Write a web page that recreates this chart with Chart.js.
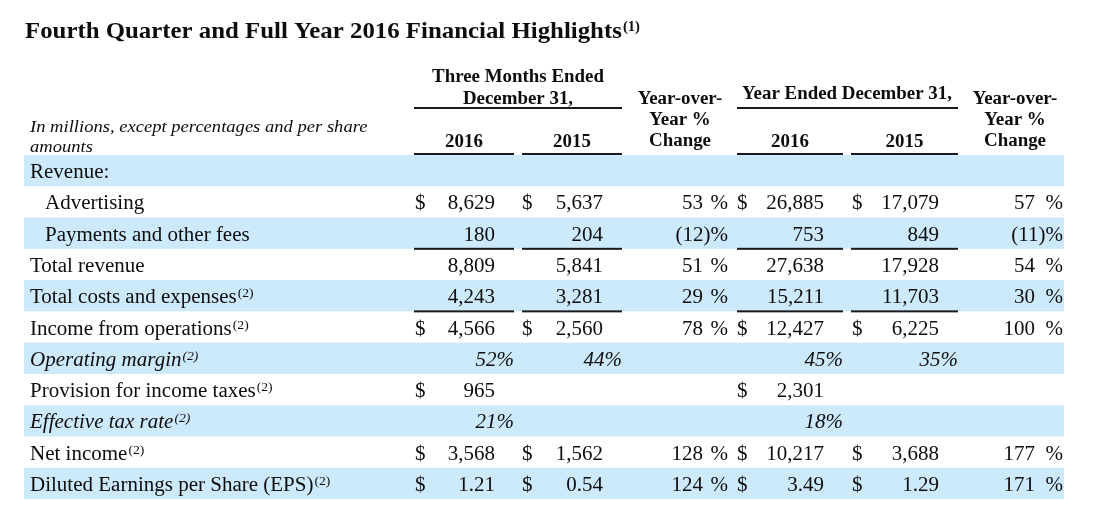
<!DOCTYPE html>
<html>
<head>
<meta charset="utf-8">
<script src="https://cdn.jsdelivr.net/npm/chart.js@4"></script>
<style>
  body { margin: 0; background: #fff; }
  canvas { display: block; }
</style>
</head>
<body>
<canvas id="table" width="1096" height="510"></canvas>
<script>
// ---------------- DATA ----------------
const title = "Fourth Quarter and Full Year 2016 Financial Highlights";
const rowLabels = [
    "Revenue:",
    "Advertising",
    "Payments and other fees",
    "Total revenue",
    "Total costs and expenses",
    "Income from operations",
    "Operating margin",
    "Provision for income taxes",
    "Effective tax rate",
    "Net income",
    "Diluted Earnings per Share (EPS)"
];
const labelNotes = ["", "", "", "", "(2)", "(2)", "(2)", "(2)", "(2)", "(2)", "(2)"];
const indentRows = [1, 2];
const italicRows = [6, 8];
const dollarRows = [1, 5, 7, 9, 10];
const epsRow = 10;

const q4_2016 = [null, 8629, 180, 8809, 4243, 4566, 52, 965, 21, 3568, 1.21];
const q4_2015 = [null, 5637, 204, 5841, 3281, 2560, 44, null, null, 1562, 0.54];
const q4Change = [null, 53, -12, 51, 29, 78, null, null, null, 128, 124];
const fy_2016 = [null, 26885, 753, 27638, 15211, 12427, 45, 2301, 18, 10217, 3.49];
const fy_2015 = [null, 17079, 849, 17928, 11703, 6225, 35, null, null, 3688, 1.29];
const fyChange = [null, 57, -11, 54, 30, 100, null, null, null, 177, 171];

const underlineAfter = [2, 4];

// ---------------- LAYOUT ----------------
const SERIF = "'Liberation Serif', 'Times New Roman', serif";
const INK = "#0d0d0d";
const BAND = "#cdeafd";

const amountCols = [
    { values: q4_2016, dollar: 415, right: 495, lineL: 414, lineR: 514 },
    { values: q4_2015, dollar: 522, right: 603, lineL: 522, lineR: 622 },
    { values: fy_2016, dollar: 737, right: 824, lineL: 737, lineR: 843 },
    { values: fy_2015, dollar: 852, right: 939, lineL: 851, lineR: 958 }
];
const changeCols = [
    { values: q4Change, numRight: 703, pctRight: 728 },
    { values: fyChange, numRight: 1035, pctRight: 1063 }
];

function txt(ctx, s, x, y, font, align, sx) {
    ctx.save();
    ctx.font = font;
    ctx.textAlign = align || "left";
    ctx.textBaseline = "alphabetic";
    ctx.fillStyle = INK;
    ctx.translate(x, y);
    ctx.scale(sx || 1.05, 1);
    ctx.fillText(s, 0, 0);
    const w = ctx.measureText(s).width * (sx || 1.05);
    ctx.restore();
    return w;
}

function hline(ctx, x1, x2, y) {
    ctx.save();
    ctx.fillStyle = "#1a1a1a";
    ctx.fillRect(x1, y - 1, x2 - x1, 2);
    ctx.restore();
}

function fmt(v, row) {
    if (row === epsRow) return v.toFixed(2);
    return v.toLocaleString("en-US");
}

// ---------------- TABLE PLUGIN ----------------
const tablePlugin = {
    id: "finTable",
    beforeDatasetsDraw(chart) {
        const ctx = chart.ctx;
        const xs = chart.scales.x;
        const ys = chart.scales.y;
        const area = chart.chartArea;
        const rowH = ys.getPixelForValue(1) - ys.getPixelForValue(0);
        const X = v => xs.getPixelForValue(v);

        // bands
        rowLabels.forEach((_, i) => {
            if (i % 2 !== 0) return;
            const c = ys.getPixelForValue(i);
            ctx.fillStyle = BAND;
            ctx.fillRect(area.left, c - rowH / 2, area.right - area.left, rowH);
        });

        // title
        const tw = txt(ctx, title, 25, 38, "bold 23px " + SERIF, "left", 1.08);
        txt(ctx, "(1)", 25 + tw + 1, 31, "bold 14px " + SERIF, "left", 1.05);

        // header
        const hb = "bold 18px " + SERIF;
        txt(ctx, "Three Months Ended", X(518), 82, hb, "center");
        txt(ctx, "December 31,", X(518), 104, hb, "center");
        txt(ctx, "Year Ended December 31,", X(847), 99, hb, "center");
        [X(680), X(1015)].forEach(cx => {
            txt(ctx, "Year-over-", cx, 104, hb, "center");
            txt(ctx, "Year %", cx, 125, hb, "center");
            txt(ctx, "Change", cx, 146, hb, "center");
        });
        const yearNames = ["2016", "2015", "2016", "2015"];
        amountCols.forEach((col, k) => {
            txt(ctx, yearNames[k], (X(col.lineL) + X(col.lineR)) / 2, 147, hb, "center");
            hline(ctx, X(col.lineL), X(col.lineR), 154);
        });
        hline(ctx, X(414), X(622), 108);
        hline(ctx, X(737), X(958), 108);
        const hi = "italic 17.7px " + SERIF;
        txt(ctx, "In millions, except percentages and per share", 30, 132, hi, "left");
        txt(ctx, "amounts", 30, 152, hi, "left");

        // rows
        const body = "20px " + SERIF;
        const bodyIt = "italic 20px " + SERIF;
        rowLabels.forEach((label, i) => {
            const base = ys.getPixelForValue(i) + 7.5;
            const italic = italicRows.includes(i);
            const lx = indentRows.includes(i) ? 45 : 30;
            const w = txt(ctx, label, lx, base, italic ? bodyIt : body, "left");
            if (labelNotes[i]) {
                txt(ctx, labelNotes[i], lx + w + 1, base - 6,
                    (italic ? "italic " : "") + "13px " + SERIF, "left");
            }

            amountCols.forEach(col => {
                const v = col.values[i];
                if (v === null) return;
                if (italic) {
                    txt(ctx, v + "%", X(col.lineR), base, bodyIt, "right");
                    return;
                }
                if (dollarRows.includes(i)) txt(ctx, "$", X(col.dollar), base, body, "left");
                txt(ctx, fmt(v, i), X(col.right), base, body, "right");
            });

            changeCols.forEach(col => {
                const v = col.values[i];
                if (v === null) return;
                if (v < 0) {
                    txt(ctx, "(" + (-v) + ")%", X(col.pctRight), base, body, "right");
                } else {
                    txt(ctx, String(v), X(col.numRight), base, body, "right");
                    txt(ctx, "%", X(col.pctRight), base, body, "right");
                }
            });
        });

        // totals underlines
        underlineAfter.forEach(i => {
            const y = ys.getPixelForValue(i) + rowH / 2;
            amountCols.forEach(col => hline(ctx, X(col.lineL), X(col.lineR), y));
        });
    }
};

// ---------------- CHART ----------------
new Chart(document.getElementById("table"), {
    type: "bar",
    data: {
        labels: rowLabels,
        datasets: [{ label: "rows", data: [] }]
    },
    options: {
        indexAxis: "y",
        responsive: false,
        devicePixelRatio: 1,
        animation: false,
        layout: { padding: { left: 24, right: 32, top: 155, bottom: 11 } },
        plugins: { legend: { display: false }, tooltip: { enabled: false } },
        scales: {
            x: { type: "linear", min: 24, max: 1064, display: false },
            y: { type: "category", display: false, offset: true }
        }
    },
    plugins: [tablePlugin]
});
</script>
</body>
</html>
